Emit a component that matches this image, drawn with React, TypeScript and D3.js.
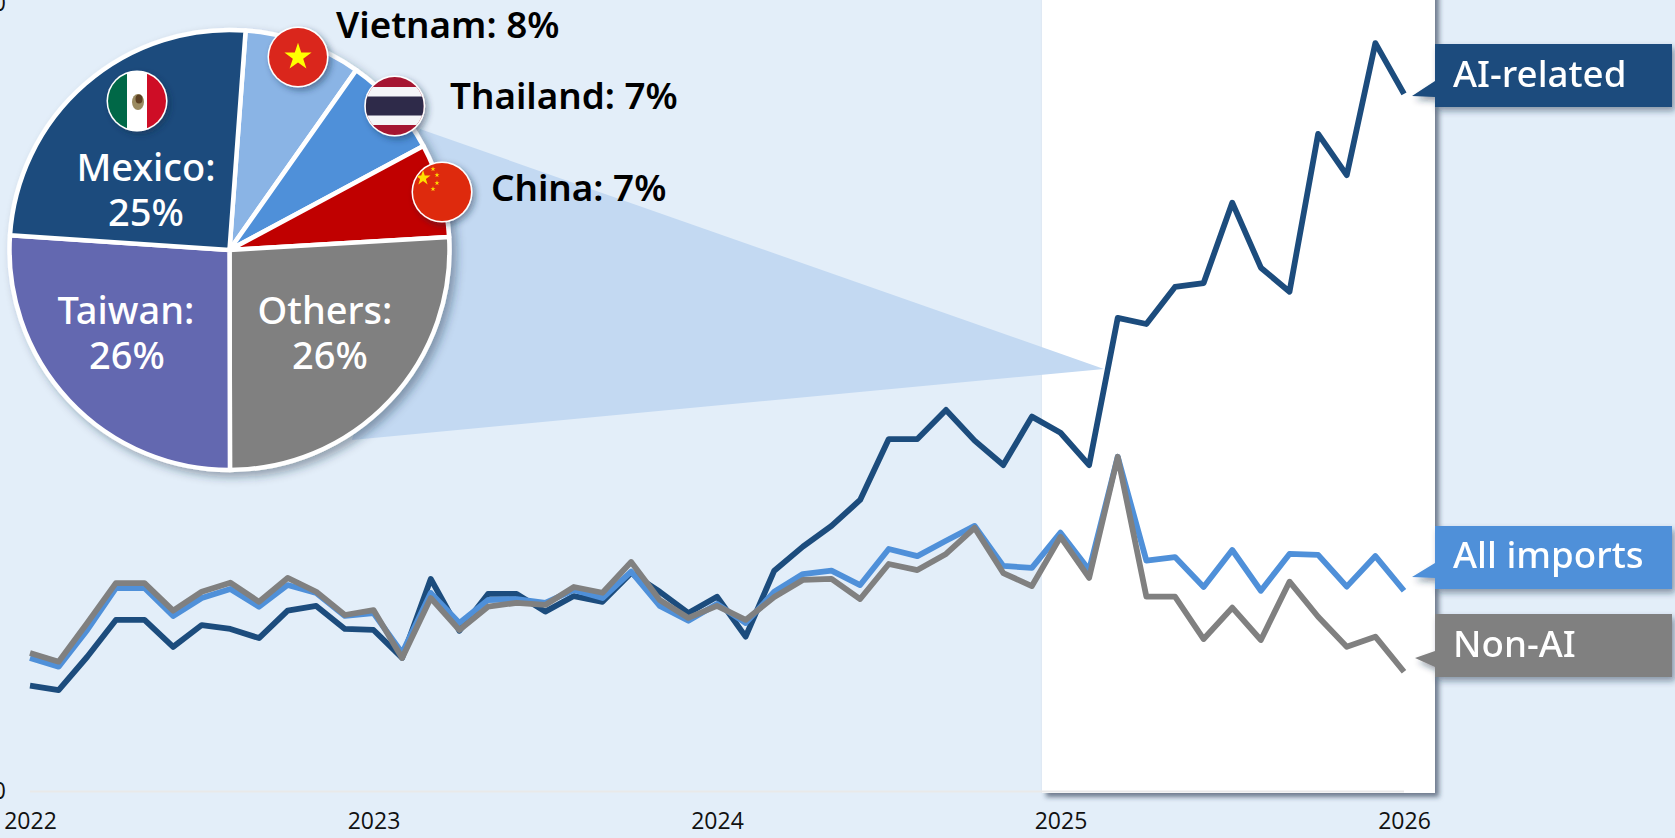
import React, { useRef, useEffect } from 'react';
import * as d3 from 'd3';

const WIDTH = 1675;
const HEIGHT = 838;

// monthly, Jan 2022 to Jan 2026
const aiRelated = [
  53.7, 51.5, 68.4, 87.1, 87.1, 73.4, 84.5, 82.5, 77.9, 91.8, 94.2, 82.5,
  82.0, 67.8, 107.9, 81.6, 100.3, 100.3, 91.3, 99.2, 96.3, 110.9, 101.4, 90.6,
  98.9, 78.6, 112.1, 124.3, 134.8, 148.0, 178.9, 178.9, 193.7, 178.1, 165.7, 190.3,
  182.1, 165.7, 240.4, 237.3, 256.1, 258.1, 298.9, 265.9, 253.7, 333.8, 312.9, 379.9,
  354.1,
];
const allImports = [
  67.8, 63.4, 82.0, 103.3, 103.3, 89.1, 98.2, 102.8, 93.8, 104.8, 100.8, 89.1,
  90.6, 70.3, 100.8, 85.5, 97.2, 97.7, 95.8, 102.3, 98.2, 111.6, 94.2, 86.7,
  95.2, 85.5, 101.4, 110.4, 112.1, 104.8, 123.1, 119.5, 127.3, 134.8, 114.5, 113.5,
  131.4, 112.4, 169.9, 117.2, 119.0, 103.8, 122.6, 101.9, 120.6, 120.1, 104.0, 119.5,
  101.9,
];
const nonAi = [
  70.3, 65.9, 85.5, 105.8, 105.8, 91.8, 101.4, 106.0, 96.3, 108.4, 101.4, 89.6,
  92.1, 67.8, 98.2, 82.0, 93.8, 95.8, 94.7, 103.8, 100.9, 116.5, 97.2, 88.1,
  94.2, 87.1, 98.7, 107.4, 107.9, 97.7, 115.5, 112.4, 120.6, 133.8, 110.9, 104.3,
  129.3, 108.4, 169.9, 98.9, 98.9, 77.4, 93.3, 76.9, 106.5, 88.7, 73.5, 78.6,
  60.8,
];

const yearTicks = [0, 12, 24, 36, 48];
const yearLabels = ['2022', '2023', '2024', '2025', '2026'];
const yTicks = [0, 400];

// slice sizes as drawn in the picture, the printed labels are rounded
const pieNames = ['Vietnam', 'Thailand', 'China', 'Others', 'Taiwan', 'Mexico'];
const pieShares = [8.6, 7.4, 6.9, 25.9, 26.1, 25.1];
const pieColors = ['#8AB4E5', '#4F90D9', '#C00000', '#808080', '#6467B0', '#1C4C7D'];

const BG = '#E3EEF9';
const NAVY = '#1C4C7D';
const BLUE = '#4F90D9';
const GREY = '#808080';
const FONT = '"Noto Sans", sans-serif';

const App = () => {
  const ref = useRef<SVGSVGElement>(null);

  useEffect(() => {
    const svg = d3.select(ref.current);
    svg.selectAll('*').remove();

    const x = d3.scaleLinear().domain([0, 48]).range([30, 1404]);
    const y = d3.scaleLinear().domain([0, 400]).range([791.5, 3.5]);

    const defs = svg.append('defs');
    const shadow = (id: string, dx: number, dy: number, blur: number, op: number) => {
      const f = defs.append('filter').attr('id', id)
        .attr('x', '-20%').attr('y', '-20%').attr('width', '140%').attr('height', '140%');
      f.append('feDropShadow')
        .attr('dx', dx).attr('dy', dy).attr('stdDeviation', blur)
        .attr('flood-color', '#1F2F45').attr('flood-opacity', op);
    };
    shadow('panelShadow', 4, 4, 2.5, 0.6);
    shadow('boxShadow', 3, 4, 3, 0.45);
    shadow('pieShadow', 5, 5, 5, 0.4);
    shadow('flagShadow', 3, 3, 3, 0.45);

    svg.append('rect').attr('width', WIDTH).attr('height', HEIGHT).attr('fill', BG);

    // white panel for the latest year
    svg.append('rect')
      .attr('x', 1042).attr('y', -10).attr('width', 393).attr('height', 803)
      .attr('fill', '#fff').attr('filter', 'url(#panelShadow)');

    // zoom wedge from the pie to Feb 2025
    svg.append('polygon')
      .attr('points', '420,129 1104,369 352,440')
      .attr('fill', '#C3D9F2');

    // baseline
    svg.append('line')
      .attr('x1', x(0)).attr('x2', x(48)).attr('y1', y(0)).attr('y2', y(0))
      .attr('stroke', '#E9E9E9').attr('stroke-width', 2);

    // axes
    const xAxis = d3.axisBottom(x)
      .tickValues(yearTicks)
      .tickSize(0)
      .tickFormat((_, i) => yearLabels[i]);
    const gx = svg.append('g').attr('transform', 'translate(0,810)').call(xAxis);
    gx.select('.domain').remove();
    gx.selectAll('text')
      .attr('font-family', 'Open Sans, sans-serif').attr('font-size', 23).attr('fill', '#111');

    const yAxis = d3.axisLeft(y).tickValues(yTicks).tickSize(0).tickPadding(0);
    const gy = svg.append('g').attr('transform', 'translate(6,0)').call(yAxis);
    gy.select('.domain').remove();
    gy.selectAll('text')
      .attr('font-family', 'Open Sans, sans-serif').attr('font-size', 23).attr('fill', '#111');

    // lines
    const line = d3.line<number>().x((_, i) => x(i)).y(d => y(d));
    [[aiRelated, NAVY], [allImports, BLUE], [nonAi, GREY]].forEach(([values, color]) => {
      svg.append('path')
        .attr('d', line(values as number[]))
        .attr('fill', 'none')
        .attr('stroke', color as string)
        .attr('stroke-width', 5.8)
        .attr('stroke-linejoin', 'round');
    });

    // callouts
    const callouts = [
      { label: 'AI-related', color: NAVY, top: 44, tip: 96, base0: 81, base1: 97, tipX: 1412, textY: 87 },
      { label: 'All imports', color: BLUE, top: 526, tip: 577, base0: 563, base1: 578, tipX: 1412, textY: 568 },
      { label: 'Non-AI', color: GREY, top: 614, tip: 658, base0: 651, base1: 667, tipX: 1415, textY: 657 },
    ];
    callouts.forEach(c => {
      const g = svg.append('g').attr('filter', 'url(#boxShadow)');
      g.append('path')
        .attr('d', `M1435,${c.top}H1672V${c.top + 63}H1435V${c.base1}L${c.tipX},${c.tip}L1435,${c.base0}Z`)
        .attr('fill', c.color);
      g.append('text')
        .attr('x', 1453).attr('y', c.textY)
        .attr('font-family', FONT).attr('font-weight', 500).attr('font-size', 36.7)
        .attr('fill', '#fff')
        .text(c.label);
    });

    // pie
    const cx = 229.5;
    const cy = 250;
    const r = 220;
    const pie = d3.pie<number>().sort(null)
      .startAngle((4.2 * Math.PI) / 180)
      .endAngle((364.2 * Math.PI) / 180);
    const arc = d3.arc<d3.PieArcDatum<number>>().innerRadius(0).outerRadius(r);
    const gp = svg.append('g')
      .attr('transform', `translate(${cx},${cy})`)
      .attr('filter', 'url(#pieShadow)');
    gp.selectAll('path')
      .data(pie(pieShares))
      .enter().append('path')
        .attr('d', arc)
        .attr('fill', (_, i) => pieColors[i])
        .attr('stroke', '#fff')
        .attr('stroke-width', 4.5)
        .attr('stroke-linejoin', 'round')
        .append('title').text((_, i) => pieNames[i]);

    // flags
    const flag = (id: string, fx: number, fy: number, draw: (g: any, fr: number) => void) => {
      const fr = 29;
      defs.append('clipPath').attr('id', id)
        .append('circle').attr('cx', 0).attr('cy', 0).attr('r', fr);
      const outer = svg.append('g')
        .attr('transform', `translate(${fx},${fy})`)
        .attr('filter', 'url(#flagShadow)');
      outer.append('circle').attr('r', fr + 1.5).attr('fill', '#fff');
      const g = outer.append('g').attr('clip-path', `url(#${id})`);
      draw(g, fr);
    };
    const stripe = (g: any, x0: number, y0: number, w: number, h: number, fill: string) =>
      g.append('rect').attr('x', x0).attr('y', y0).attr('width', w).attr('height', h).attr('fill', fill);
    const star = (g: any, sx: number, sy: number, size: number, fill: string) =>
      g.append('path')
        .attr('transform', `translate(${sx},${sy})`)
        .attr('d', d3.symbol(d3.symbolStar, size)())
        .attr('fill', fill);

    flag('flagMexico', 137, 101, (g, fr) => {
      stripe(g, -fr, -fr, 2 * fr, 2 * fr, '#fff');
      stripe(g, -fr, -fr, 19, 2 * fr, '#006847');
      stripe(g, 10, -fr, 20, 2 * fr, '#CE1126');
      g.append('ellipse').attr('cx', 1).attr('cy', 1).attr('rx', 6).attr('ry', 8).attr('fill', '#9A8A60');
      g.append('ellipse').attr('cx', 2).attr('cy', -2).attr('rx', 3.5).attr('ry', 4.5).attr('fill', '#5C4020');
    });
    flag('flagVietnam', 298, 57, (g, fr) => {
      stripe(g, -fr, -fr, 2 * fr, 2 * fr, '#DA251D');
      star(g, 0, 0, 230, '#FFFF00');
    });
    flag('flagThailand', 394.7, 106, (g, fr) => {
      stripe(g, -fr, -fr, 2 * fr, 2 * fr, '#A51931');
      stripe(g, -fr, -19, 2 * fr, 38, '#F4F5F8');
      stripe(g, -fr, -9.5, 2 * fr, 19, '#2D2A4A');
    });
    flag('flagChina', 442, 192, (g, fr) => {
      stripe(g, -fr, -fr, 2 * fr, 2 * fr, '#DE2910');
      star(g, -19, -14, 70, '#FFDE00');
      star(g, -9, -23, 8, '#FFDE00');
      star(g, -5, -17, 8, '#FFDE00');
      star(g, -5, -9, 8, '#FFDE00');
      star(g, -9, -3, 8, '#FFDE00');
    });

    // pie labels
    const white = [
      ['Mexico:', 146, 181], ['25%', 146, 226],
      ['Taiwan:', 126, 324], ['26%', 127, 369],
      ['Others:', 325, 324], ['26%', 330, 369],
    ];
    white.forEach(([t, tx, ty]) => {
      svg.append('text')
        .attr('x', tx as number).attr('y', ty as number)
        .attr('text-anchor', 'middle')
        .attr('font-family', FONT).attr('font-weight', 500).attr('font-size', 38)
        .attr('fill', '#fff')
        .text(t as string);
    });
    const black = [
      ['Vietnam: 8%', 336, 38],
      ['Thailand: 7%', 450, 109],
      ['China: 7%', 491, 201],
    ];
    black.forEach(([t, tx, ty]) => {
      svg.append('text')
        .attr('x', tx as number).attr('y', ty as number)
        .attr('font-family', FONT).attr('font-weight', 600).attr('font-size', 36.8)
        .attr('fill', '#000')
        .text(t as string);
    });
  }, []);

  return (
    <svg
      ref={ref}
      width={WIDTH}
      height={HEIGHT}
      style={{ position: 'absolute', left: 0, top: 0, display: 'block' }}
    ></svg>
  );
};

export default App;
